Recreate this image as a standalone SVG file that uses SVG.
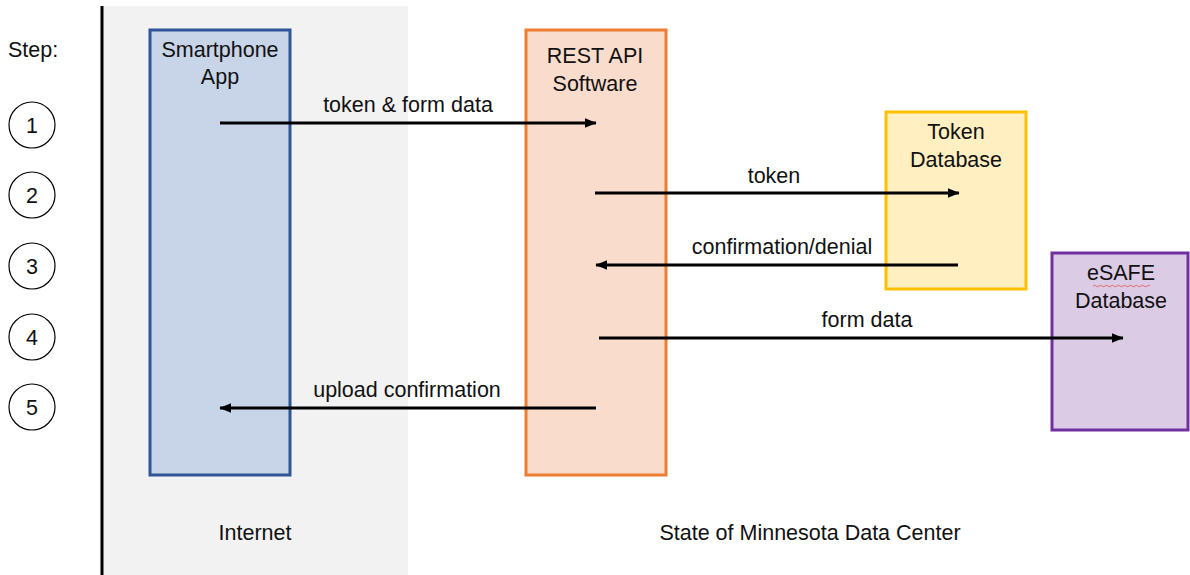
<svg xmlns="http://www.w3.org/2000/svg" width="1190" height="575" viewBox="0 0 1190 575">
  <defs>
    <marker id="arrow" markerWidth="4" markerHeight="3.2" refX="3.8" refY="1.6" orient="auto" markerUnits="strokeWidth">
      <path d="M0,0 L4,1.6 L0,3.2 z" fill="#000"/>
    </marker>
  </defs>
  <style>
    text { font-family: "Liberation Sans", Arial, sans-serif; font-size: 21.5px; fill: #111; }
    .mid { text-anchor: middle; }
    .flow { stroke: #000; stroke-width: 3; fill: none; marker-end: url(#arrow); }
    .step { fill: #fff; stroke: #000; stroke-width: 1.2; }
  </style>

  <rect width="1190" height="575" fill="#fff"/>

  <!-- internet zone -->
  <rect x="104" y="6" width="304" height="569" fill="#f2f2f2"/>
  <line x1="102" y1="6" x2="102" y2="575" stroke="#000" stroke-width="3"/>

  <!-- step numbers -->
  <g id="steps">
    <text x="8" y="57">Step:</text>
    <circle class="step" cx="32" cy="125" r="23"/>
    <text class="mid" x="32" y="133">1</text>
    <circle class="step" cx="32" cy="195" r="23"/>
    <text class="mid" x="32" y="203">2</text>
    <circle class="step" cx="32" cy="266" r="23"/>
    <text class="mid" x="32" y="274">3</text>
    <circle class="step" cx="32" cy="337" r="23"/>
    <text class="mid" x="32" y="345">4</text>
    <circle class="step" cx="32" cy="407" r="23"/>
    <text class="mid" x="32" y="415">5</text>
  </g>

  <g id="smartphone-app">
    <rect x="150" y="30" width="140" height="445" fill="#c8d4e7" stroke="#2f5597" stroke-width="3"/>
    <text class="mid" x="220" y="57">Smartphone</text>
    <text class="mid" x="220" y="84">App</text>
  </g>

  <g id="rest-api">
    <rect x="526" y="30" width="140" height="445" fill="#f9dccb" stroke="#ed7d31" stroke-width="3"/>
    <text class="mid" x="595" y="63">REST API</text>
    <text class="mid" x="595" y="91">Software</text>
  </g>

  <g id="token-db">
    <rect x="886" y="112" width="140" height="177" fill="#ffefc1" stroke="#ffc000" stroke-width="3"/>
    <text class="mid" x="956" y="139">Token</text>
    <text class="mid" x="956" y="167">Database</text>
  </g>

  <g id="esafe-db">
    <rect x="1052" y="253" width="136" height="177" fill="#dbcbe5" stroke="#7030a0" stroke-width="3"/>
    <text class="mid" x="1121" y="280">eSAFE</text>
    <path d="M1093,286 q1.5,-1.5 3,0 t3,0 t3,0 t3,0 t3,0 t3,0 t3,0 t3,0 t3,0 t3,0 t3,0 t3,0 t3,0 t3,0 t3,0 t3,0 t3,0 t3,0 t3,0" fill="none" stroke="#e05050" stroke-width="0.8"/>
    <text class="mid" x="1121" y="308">Database</text>
  </g>

  <g id="connectors">
    <line class="flow" x1="220" y1="123" x2="596" y2="123"/>
    <text class="mid" x="408" y="112">token &amp; form data</text>
    <line class="flow" x1="595" y1="193" x2="959" y2="193"/>
    <text class="mid" x="774" y="183">token</text>
    <line class="flow" x1="958" y1="265" x2="596" y2="265"/>
    <text class="mid" x="782" y="254">confirmation/denial</text>
    <line class="flow" x1="599" y1="338" x2="1123" y2="338"/>
    <text class="mid" x="867" y="327">form data</text>
    <line class="flow" x1="596" y1="408" x2="220" y2="408"/>
    <text class="mid" x="407" y="397">upload confirmation</text>
  </g>

  <g id="zones">
    <text class="mid" x="255" y="540">Internet</text>
    <text class="mid" x="810" y="540">State of Minnesota Data Center</text>
  </g>
</svg>
